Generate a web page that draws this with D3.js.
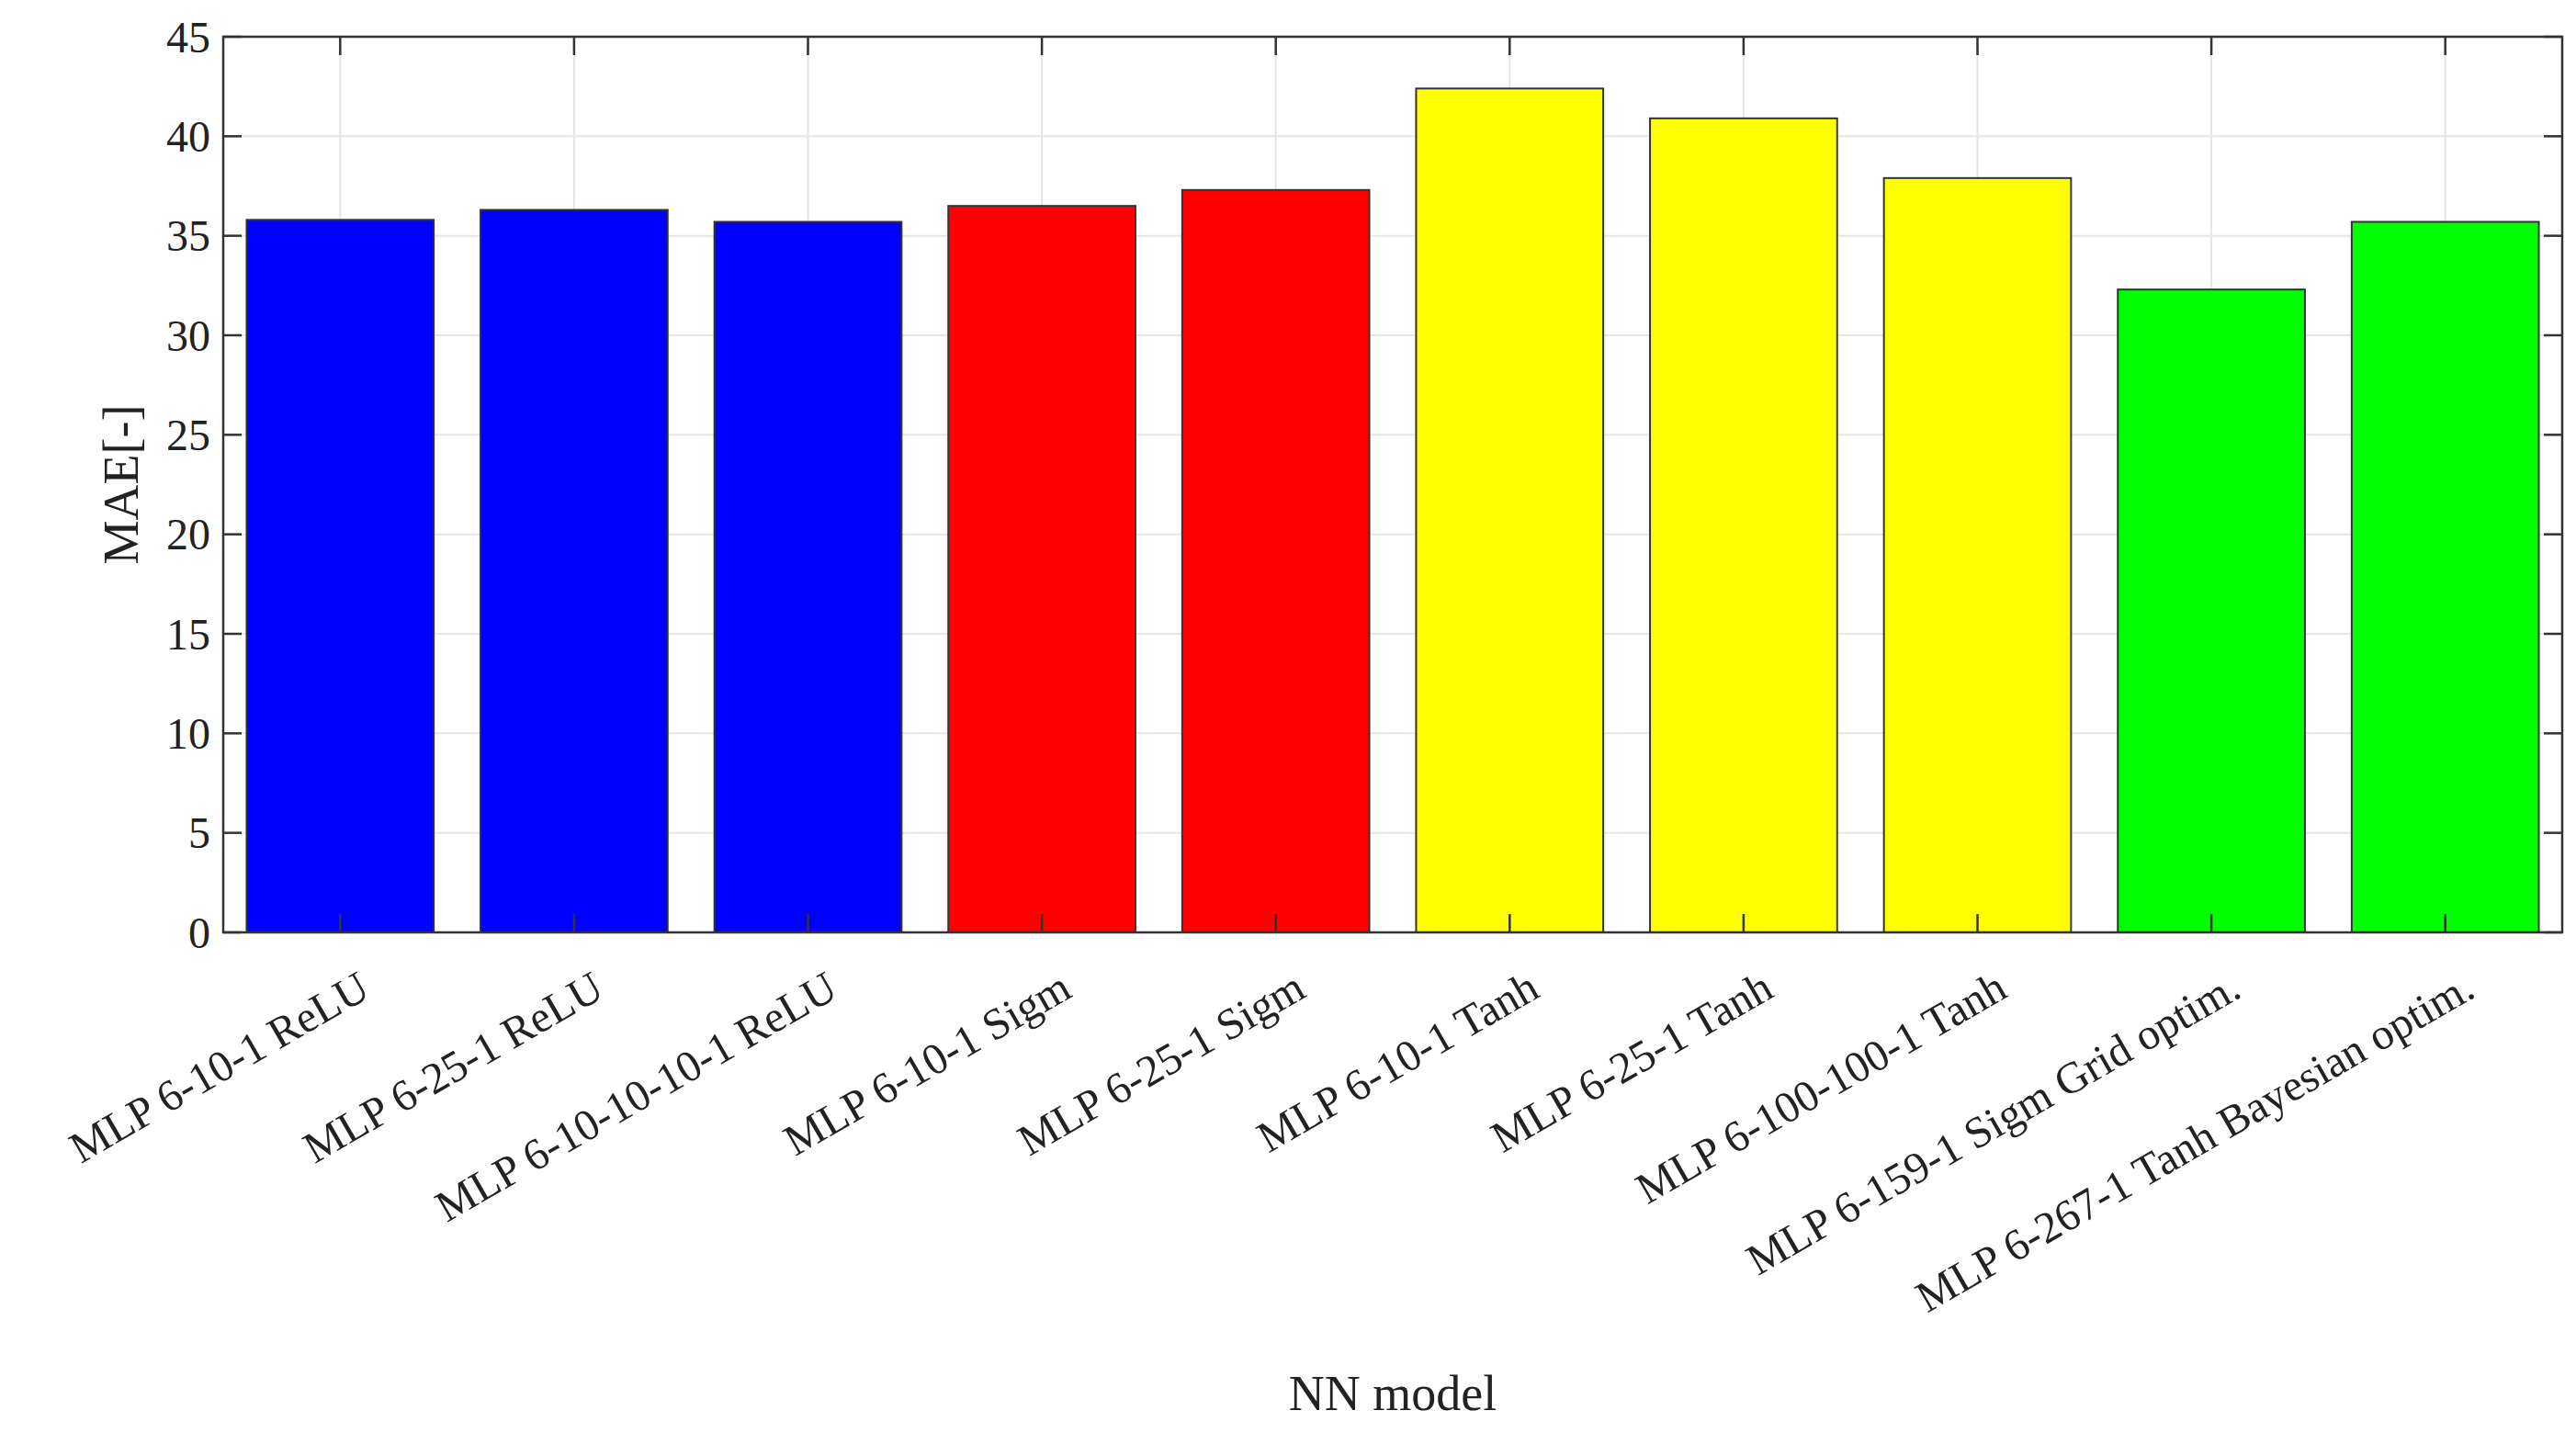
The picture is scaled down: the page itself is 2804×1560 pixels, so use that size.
<!DOCTYPE html><html><head><meta charset="utf-8"><script src="https://cdn.jsdelivr.net/npm/d3@7"></script>
<style>body{margin:0;background:#fff}text{font-family:"Liberation Serif","Times New Roman",serif;fill:#222}</style></head><body><svg id="c" width="2804" height="1560"></svg><script>
const categories=["MLP 6-10-1 ReLU","MLP 6-25-1 ReLU","MLP 6-10-10-10-1 ReLU","MLP 6-10-1 Sigm","MLP 6-25-1 Sigm","MLP 6-10-1 Tanh","MLP 6-25-1 Tanh","MLP 6-100-100-1 Tanh","MLP 6-159-1 Sigm Grid optim.","MLP 6-267-1 Tanh Bayesian optim."];
const values=[35.8,36.3,35.7,36.5,37.3,42.4,40.9,37.9,32.3,35.7];
const colors=["#0000ff","#0000ff","#0000ff","#ff0000","#ff0000","#ffff00","#ffff00","#ffff00","#00ff00","#00ff00"];
const yTicks=[0,5,10,15,20,25,30,35,40,45];
const L=243,R=2789,T=40,B=1015;
const svg=d3.select("#c");
const x=d3.scaleBand().domain(categories).range([L,R]).paddingInner(0.2).paddingOuter(0.1);
const y=d3.scaleLinear().domain([0,45]).range([B,T]);
const g=svg.append("g");
// grid
g.selectAll(".gy").data(yTicks).join("line").attr("x1",L).attr("x2",R).attr("y1",d=>y(d)).attr("y2",d=>y(d)).attr("stroke","#e6e6e6").attr("stroke-width",2);
g.selectAll(".gx").data(categories).join("line").attr("x1",d=>x(d)+x.bandwidth()/2).attr("x2",d=>x(d)+x.bandwidth()/2).attr("y1",T).attr("y2",B).attr("stroke","#e6e6e6").attr("stroke-width",2);
// bars
g.selectAll(".b").data(values).join("rect").attr("x",(d,i)=>x(categories[i])).attr("width",x.bandwidth()).attr("y",d=>y(d)).attr("height",d=>B-y(d)).attr("fill",(d,i)=>colors[i]).attr("stroke","#333").attr("stroke-width",2);
// box
g.append("rect").attr("x",L).attr("y",T).attr("width",R-L).attr("height",B-T).attr("fill","none").attr("stroke","#333").attr("stroke-width",2.5);
// ticks
const tl=20;
g.selectAll(".ty").data(yTicks).join("line").attr("x1",L).attr("x2",L+tl).attr("y1",d=>y(d)).attr("y2",d=>y(d)).attr("stroke","#333").attr("stroke-width",2.5);
g.selectAll(".ty2").data(yTicks).join("line").attr("x1",R).attr("x2",R-tl).attr("y1",d=>y(d)).attr("y2",d=>y(d)).attr("stroke","#333").attr("stroke-width",2.5);
g.selectAll(".tx").data(categories).join("line").attr("x1",d=>x(d)+x.bandwidth()/2).attr("x2",d=>x(d)+x.bandwidth()/2).attr("y1",B).attr("y2",B-tl).attr("stroke","#333").attr("stroke-width",2.5);
g.selectAll(".tx2").data(categories).join("line").attr("x1",d=>x(d)+x.bandwidth()/2).attr("x2",d=>x(d)+x.bandwidth()/2).attr("y1",T).attr("y2",T+tl).attr("stroke","#333").attr("stroke-width",2.5);
// labels
g.selectAll(".ly").data(yTicks).join("text").attr("x",L-14).attr("y",d=>y(d)).attr("dy","0.35em").attr("text-anchor","end").attr("font-size",48).text(d=>d);
g.selectAll(".lx").data(categories).join("text").attr("transform",d=>`translate(${x(d)+x.bandwidth()/2+18},${B+40}) rotate(-30)`).attr("text-anchor","end").attr("dy","0.7em").attr("font-size",48).text(d=>d);
svg.append("text").attr("x",(L+R)/2).attr("y",1535).attr("text-anchor","middle").attr("font-size",54).text("NN model");
svg.append("text").attr("transform",`translate(150,${(T+B)/2}) rotate(-90)`).attr("text-anchor","middle").attr("font-size",54).text("MAE[-]");
</script></body></html>
